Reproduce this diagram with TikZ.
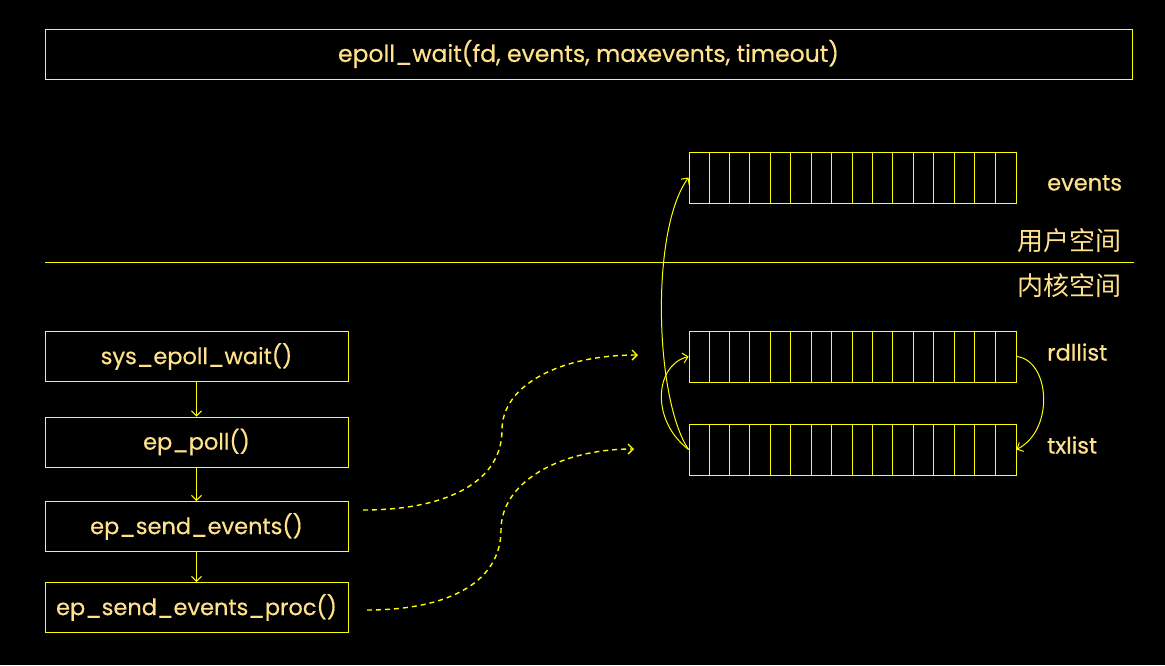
\documentclass[tikz,border=0pt]{standalone}
\usepackage{fontspec}
\setmainfont{Poppins}[FakeBold=0.5]
\newfontfamily\cjk{Noto Sans CJK SC}
\usetikzlibrary{arrows.meta}
\definecolor{ln}{HTML}{FFFF00}
\definecolor{txc}{HTML}{FFE28A}
\begin{document}
\begin{tikzpicture}[x=1pt,y=-1pt,
  box/.style={draw=ln, line width=0.9pt, minimum width=303pt, minimum height=50pt, inner sep=0pt, text=txc, font=\fontsize{22.5}{26}\selectfont},
  arr/.style={draw=ln, line width=0.9pt, minimum width=327pt, minimum height=51pt, inner sep=0pt},
  lbl/.style={text=txc, inner sep=0pt, font=\fontsize{22.5}{26}\selectfont},
  cjklbl/.style={text=txc, inner sep=0pt, font=\cjk\fontsize{26}{30}\selectfont},
  tip/.style={draw=ln, line width=1pt, -{Straight Barb[length=5pt,width=10pt]}},
  dtip/.style={tip, line width=1.4pt, dash pattern=on 5pt off 4pt},
  cell/.style={draw=ln, line width=0.9pt}
]
\fill[black] (0,0) rectangle (1165,665);
\useasboundingbox (0,0) rectangle (1165,665);

\node[box, minimum width=1087pt, font=\fontsize{23.5}{27}\selectfont] (top) at (588.5,54) {epoll\_wait(fd, events, maxevents, timeout)};

\coordinate (divL) at (45,262);
\coordinate (divR) at (1134,262);
\draw[ln, line width=0.9pt] (divL) -- (divR);

\node[box] (b1) at (196.5,356.5) {sys\_epoll\_wait()};
\node[box] (b2) at (196.5,442) {ep\_poll()};
\node[box] (b3) at (196.5,526.5) {ep\_send\_events()};
\node[box] (b4) at (196.5,607.5) {ep\_send\_events\_proc()};

\draw[tip] (b1.south) -- (b2.north);
\draw[tip] (b2.south) -- (b3.north);
\draw[tip] (b3.south) -- (b4.north);

\node[arr] (ev) at (852.5,177.5) {};
\node[arr] (rd) at (852.5,356.5) {};
\node[arr] (tx) at (852.5,449.5) {};
\foreach \a in {ev,rd,tx}{
  \foreach \i in {1,...,15}{
    \draw[cell] ([xshift=\i*20.4375pt]\a.north west) -- ([xshift=\i*20.4375pt]\a.south west);
  }
}

\node[lbl, anchor=base west] (levents) at (1047,190.5) {events};
\node[lbl, anchor=base west] (lrd) at (1047,360.5) {rdllist};
\node[lbl, anchor=base west] (ltx) at (1047,453.5) {txlist};
\node[cjklbl] (user) at (1069,241) {用户空间};
\node[cjklbl] (kern) at (1069,286) {内核空间};

\coordinate (d1s) at (363,510);
\coordinate (d1e) at (638,355);
\coordinate (d2s) at (367,610);
\coordinate (d2e) at (634,449);
\draw[dtip] (d1s) .. controls (450,510) and (502,480) .. (502,430)
  .. controls (502,385) and (560,355) .. (d1e);
\draw[dtip] (d2s) .. controls (452,610) and (501,580) .. (501,530)
  .. controls (501,482) and (560,449) .. (d2e);

\draw[tip] (tx.west) .. controls (655,400) and (650,230) .. (ev.west);
\draw[tip] (tx.west) .. controls (650,420) and (655,365) .. (rd.west);
\draw[tip] (rd.east) .. controls (1050,360) and (1055,430) .. (tx.east);
\end{tikzpicture}
\end{document}
